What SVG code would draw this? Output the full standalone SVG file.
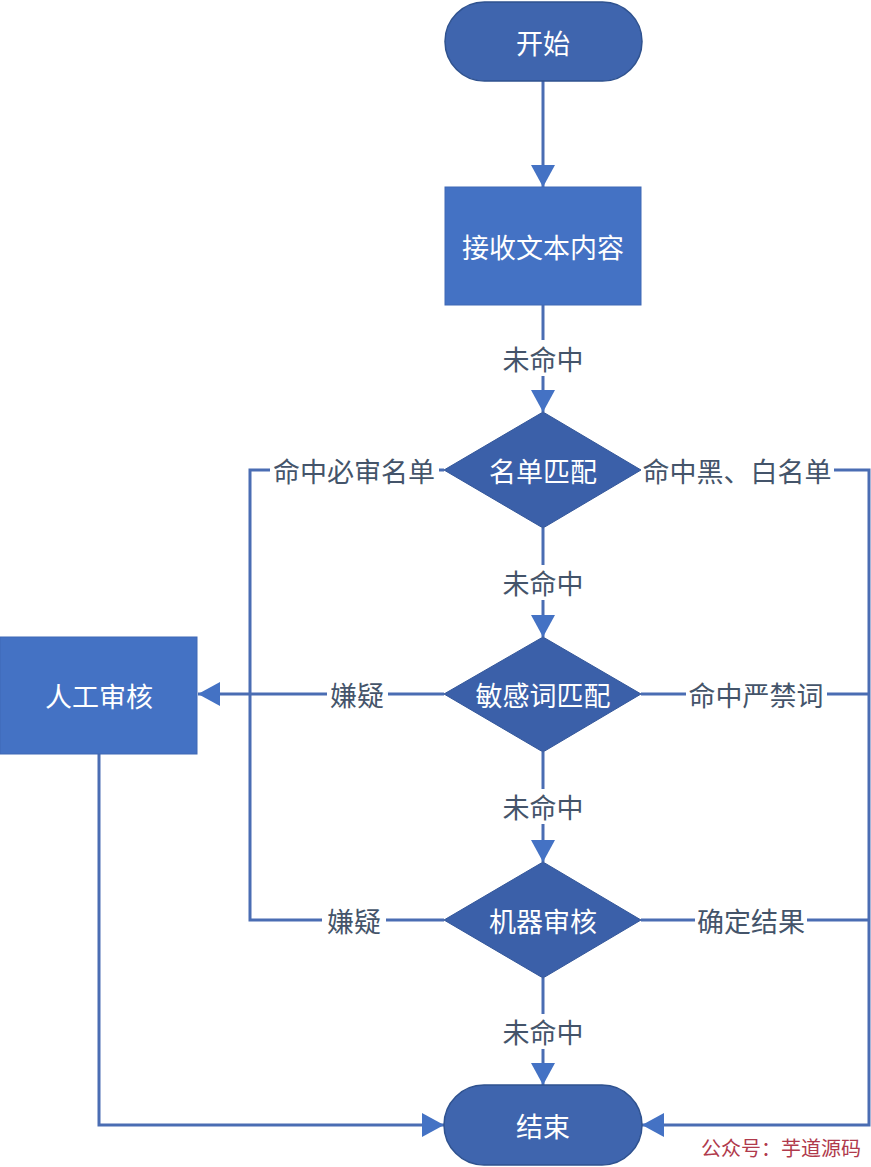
<svg xmlns="http://www.w3.org/2000/svg" width="871" height="1167" viewBox="0 0 871 1167">
<style>
.term{fill:#3F65AE;stroke:#2F528F;stroke-width:1.5}
.proc{fill:#4472C4;stroke:#3F68B5;stroke-width:1}
.dec{fill:#3B60A9;stroke:#34579A;stroke-width:1}
.nt{font-family:"Noto Sans CJK SC","Noto Sans",sans-serif;font-size:27px;fill:#FFFFFF;text-anchor:middle;dominant-baseline:central}
.lt{font-family:"Noto Sans CJK SC","Noto Sans",sans-serif;font-size:27px;fill:#44546A;text-anchor:middle;dominant-baseline:central}
.ln{fill:none;stroke:#4A6DB3;stroke-width:3}
.wm{font-family:"Noto Sans CJK SC",sans-serif;font-size:20px;fill:#B03A4C;text-anchor:middle;dominant-baseline:central}
</style>
<defs>
<marker id="ah" markerUnits="userSpaceOnUse" markerWidth="24" markerHeight="26" refX="22" refY="12" orient="auto" viewBox="0 0 24 24">
<path d="M0,0 L22,12 L0,24 Z" fill="#4472C4"/>
</marker>
</defs>
<g id="connectors">
<line class="ln" x1="543" y1="81" x2="543" y2="187" marker-end="url(#ah)"/>
<line class="ln" x1="543" y1="305" x2="543" y2="340"/>
<line class="ln" x1="543" y1="376" x2="543" y2="412" marker-end="url(#ah)"/>
<text class="lt" x="543" y="358">未命中</text>
<line class="ln" x1="543" y1="528" x2="543" y2="565"/>
<line class="ln" x1="543" y1="600" x2="543" y2="637" marker-end="url(#ah)"/>
<text class="lt" x="543" y="582">未命中</text>
<line class="ln" x1="543" y1="752" x2="543" y2="789"/>
<line class="ln" x1="543" y1="824" x2="543" y2="862" marker-end="url(#ah)"/>
<text class="lt" x="543" y="806">未命中</text>
<line class="ln" x1="543" y1="978" x2="543" y2="1014"/>
<line class="ln" x1="543" y1="1049" x2="543" y2="1085" marker-end="url(#ah)"/>
<text class="lt" x="543" y="1031">未命中</text>
<polyline class="ln" points="444,470 439,470"/>
<polyline class="ln" points="270,470 250,470 250,920 322,920"/>
<text class="lt" x="354" y="470">命中必审名单</text>
<polyline class="ln" points="834,470 869,470 869,1125 642,1125" marker-end="url(#ah)"/>
<text class="lt" x="737" y="470">命中黑、白名单</text>
<line class="ln" x1="444" y1="694" x2="388" y2="694"/>
<line class="ln" x1="327" y1="694" x2="198" y2="694" marker-end="url(#ah)"/>
<text class="lt" x="357" y="694">嫌疑</text>
<line class="ln" x1="641" y1="694" x2="686" y2="694"/>
<line class="ln" x1="827" y1="694" x2="869" y2="694"/>
<text class="lt" x="756" y="694">命中严禁词</text>
<line class="ln" x1="444" y1="920" x2="386" y2="920"/>
<text class="lt" x="354" y="920">嫌疑</text>
<line class="ln" x1="641" y1="920" x2="695" y2="920"/>
<line class="ln" x1="807" y1="920" x2="869" y2="920"/>
<text class="lt" x="751" y="920">确定结果</text>
<polyline class="ln" points="99,754 99,1125 444,1125" marker-end="url(#ah)"/>
</g>
<g id="start">
<rect class="term" x="445" y="2" width="197" height="79" rx="39.5"/>
<text class="nt" x="543" y="42">开始</text>
</g>
<g id="receive">
<rect class="proc" x="445" y="187" width="196" height="118"/>
<text class="nt" x="543" y="246">接收文本内容</text>
</g>
<g id="list-match">
<polygon class="dec" points="543,412 641,470 543,528 444,470"/>
<text class="nt" x="543" y="470">名单匹配</text>
</g>
<g id="word-match">
<polygon class="dec" points="543,637 641,694 543,752 444,694"/>
<text class="nt" x="543" y="694">敏感词匹配</text>
</g>
<g id="machine-review">
<polygon class="dec" points="543,862 641,920 543,978 444,920"/>
<text class="nt" x="543" y="920">机器审核</text>
</g>
<g id="manual-review">
<rect class="proc" x="0" y="637" width="197" height="117"/>
<text class="nt" x="99" y="695">人工审核</text>
</g>
<g id="end">
<rect class="term" x="444" y="1085" width="198" height="80" rx="40"/>
<text class="nt" x="543" y="1125">结束</text>
</g>
<text class="wm" x="781" y="1147">公众号：芋道源码</text>
</svg>
